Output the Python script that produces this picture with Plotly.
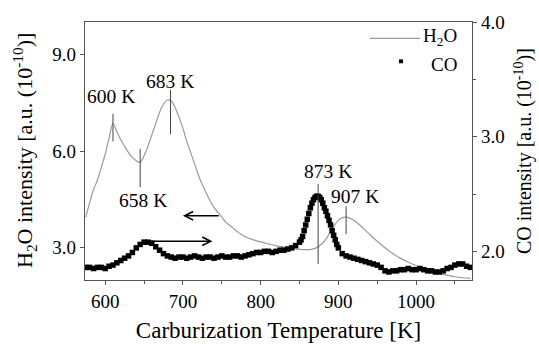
import plotly.graph_objects as go

# H2O signal (left axis)
h2o_T = [575, 580, 585, 590, 595, 600, 605, 610, 615, 620, 625, 630, 635, 640, 645, 650, 655, 660, 665, 670,
         675, 680, 685, 690, 695, 700, 705, 710, 715, 720, 725, 730, 735, 740, 745, 750, 755, 760, 765, 770,
         775, 780, 790, 800, 810, 820, 830, 840, 850, 860, 865, 870, 875, 880, 885, 890, 895, 900, 905, 910,
         915, 920, 930, 940, 950, 960, 970, 980, 990, 1000, 1010, 1020, 1030, 1040, 1050, 1060, 1070]
h2o_v = [3.95, 4.4, 4.8, 5.1, 5.5, 5.9, 6.4, 6.85, 6.6, 6.35, 6.15, 5.95, 5.8, 5.7, 5.65, 5.85, 6.15, 6.5, 6.85, 7.2,
         7.45, 7.58, 7.55, 7.35, 7.05, 6.7, 6.3, 5.95, 5.6, 5.25, 4.95, 4.7, 4.45, 4.25, 4.1, 3.95, 3.8, 3.7, 3.6, 3.5,
         3.42, 3.35, 3.25, 3.18, 3.12, 3.06, 3.02, 2.98, 2.95, 2.94, 2.95, 2.98, 3.05, 3.15, 3.3, 3.5, 3.7, 3.85, 3.93, 3.95,
         3.92, 3.85, 3.65, 3.42, 3.2, 3.0, 2.82, 2.67, 2.55, 2.45, 2.36, 2.28, 2.2, 2.15, 2.1, 2.07, 2.05]

# CO signal (right axis); denser sampling through the sharp 873 K peak
co_T = [575, 580, 585, 590, 595, 600, 605, 610, 615, 620, 625, 630, 635, 640, 645, 650, 655, 660, 665, 670,
        675, 680, 685, 690, 695, 700, 705, 710, 715, 720, 725, 730, 735, 740, 745, 750, 755, 760, 765, 770,
        775, 780, 785, 790, 795, 800, 805, 810, 815, 820, 825, 830, 835, 840, 845,
        850, 852, 854, 856, 858, 860, 862, 864, 866, 868, 870, 872, 874, 876, 878, 880, 882, 884, 886, 888,
        890, 892, 894, 896, 898, 900,
        905, 910, 915, 920, 925, 930, 935, 940, 945, 950, 955, 960, 965, 970,
        975, 980, 985, 990, 995, 1000, 1005, 1010, 1015, 1020, 1025, 1030, 1035, 1040, 1045, 1050, 1055, 1060, 1065, 1070]
co_v = [1.86, 1.86, 1.85, 1.86, 1.86, 1.85, 1.87, 1.88, 1.90, 1.92, 1.94, 1.96, 1.99, 2.03, 2.06, 2.08, 2.08, 2.07, 2.04, 2.01,
        1.98, 1.96, 1.95, 1.94, 1.95, 1.95, 1.94, 1.95, 1.96, 1.95, 1.94, 1.95, 1.95, 1.94, 1.95, 1.96, 1.95, 1.95, 1.96, 1.96,
        1.95, 1.96, 1.97, 1.98, 1.99, 1.99, 2.00, 2.00, 1.99, 2.00, 2.01, 2.01, 2.02, 2.03, 2.05,
        2.08, 2.10, 2.13, 2.18, 2.23, 2.28, 2.33, 2.38, 2.42, 2.45, 2.47, 2.48, 2.48, 2.47, 2.45, 2.42, 2.38, 2.35, 2.31, 2.27,
        2.23, 2.18, 2.14, 2.10, 2.06, 2.03,
        1.98, 1.96, 1.95, 1.94, 1.93, 1.92, 1.91, 1.90, 1.89, 1.88, 1.86, 1.83, 1.82, 1.83,
        1.83, 1.84, 1.84, 1.85, 1.84, 1.84, 1.85, 1.84, 1.83, 1.83, 1.82, 1.82, 1.83, 1.85, 1.86, 1.88, 1.89, 1.89, 1.87, 1.86]

# Peak labels (left-axis units)
peak_labels = ["600 K", "683 K", "658 K", "873 K", "907 K"]
peak_text_x = [607, 683, 649, 887, 922]
peak_text_y = [7.7, 8.15, 4.46, 5.36, 4.58]
peak_line_x = [610, 684, 645, 874, 910]
peak_line_y0 = [6.3, 6.52, 4.88, 2.5, 3.42]
peak_line_y1 = [7.15, 7.89, 6.07, 4.97, 4.29]

series_names = ["H<sub>2</sub>O", "CO"]

FONT = "Times New Roman, Liberation Serif, serif"
W, H = 539, 350
ML, MR, MT, MB = 85, 67, 21, 60
PW, PH = W - ML - MR, H - MT - MB


def px_x(p):
    return (p - ML) / PW


def px_y(p):
    return (H - MB - p) / PH


H2O_COLOR = "#9a9a9a"
CO_COLOR = "black"

fig = go.Figure()
fig.add_trace(go.Scatter(x=h2o_T, y=h2o_v, mode="lines", name=series_names[0], showlegend=False,
                         line=dict(color=H2O_COLOR, width=1.2, shape="spline"), yaxis="y"))
fig.add_trace(go.Scatter(x=co_T, y=co_v, mode="markers", name=series_names[1], showlegend=False,
                         marker=dict(symbol="square", size=5.5, color=CO_COLOR, line=dict(width=0)),
                         yaxis="y2"))

for t, tx, ty, lx, y0, y1 in zip(peak_labels, peak_text_x, peak_text_y, peak_line_x, peak_line_y0, peak_line_y1):
    fig.add_annotation(x=tx, y=ty, xref="x", yref="y", text=t, showarrow=False,
                       font=dict(family=FONT, size=19.5, color="black"))
    fig.add_shape(type="line", xref="x", yref="y", x0=lx, x1=lx, y0=y0, y1=y1,
                  line=dict(color="#444", width=1))

# arrows pointing to the axis of each curve
fig.add_annotation(x=700, y=3.99, ax=748, ay=3.99, xref="x", yref="y", axref="x", ayref="y",
                   text="", showarrow=True, arrowhead=5, arrowsize=1.1, arrowwidth=1.5, arrowcolor="black")
fig.add_annotation(x=738, y=3.2, ax=655, ay=3.2, xref="x", yref="y", axref="x", ayref="y",
                   text="", showarrow=True, arrowhead=5, arrowsize=1.1, arrowwidth=1.5, arrowcolor="black")

# legend drawn inside the frame (line sample / square sample + right-aligned label)
fig.add_shape(type="line", xref="paper", yref="paper", x0=px_x(370), x1=px_x(420), y0=px_y(38), y1=px_y(38),
              line=dict(color=H2O_COLOR, width=1.2))
fig.add_annotation(x=px_x(459), y=px_y(37), xref="paper", yref="paper", xanchor="right", yanchor="middle",
                   text=series_names[0], showarrow=False, font=dict(family=FONT, size=19, color="black"))
fig.add_shape(type="rect", xref="paper", yref="paper", x0=px_x(399), x1=px_x(403), y0=px_y(60), y1=px_y(64),
              fillcolor=CO_COLOR, line=dict(width=0))
fig.add_annotation(x=px_x(459), y=px_y(65), xref="paper", yref="paper", xanchor="right", yanchor="middle",
                   text=series_names[1], showarrow=False, font=dict(family=FONT, size=19, color="black"))

# axis titles
fig.add_annotation(x=px_x(24), y=0.5, xref="paper", yref="paper", textangle=-90, showarrow=False,
                   xanchor="center", yanchor="middle",
                   text="H<sub>2</sub>O intensity [a.u. (10<sup>-10</sup>)]",
                   font=dict(family=FONT, size=22, color="black"))
fig.add_annotation(x=px_x(523), y=0.5, xref="paper", yref="paper", textangle=-90, showarrow=False,
                   xanchor="center", yanchor="middle",
                   text="CO intensity [a.u. (10<sup>-10</sup>)]",
                   font=dict(family=FONT, size=20, color="black"))

axis_common = dict(showgrid=False, zeroline=False, linecolor="#555", linewidth=1.2,
                   ticks="outside", ticklen=4, tickcolor="#555",
                   tickfont=dict(family=FONT, size=19, color="black"))

fig.update_layout(
    width=W, height=H,
    margin=dict(l=ML, r=MR, t=MT, b=MB),
    paper_bgcolor="white", plot_bgcolor="white",
    showlegend=False,
    xaxis=dict(range=[574, 1072], tickvals=[600, 700, 800, 900, 1000], mirror=True,
               minor=dict(tickvals=[650, 750, 850, 950, 1050], ticks="outside", ticklen=3, tickcolor="#555"),
               title=dict(text="Carburization Temperature [K]", font=dict(family=FONT, size=23, color="black"),
                          standoff=10),
               **axis_common),
    yaxis=dict(range=[2.0, 10.0], tickvals=[3, 6, 9], ticktext=["3.0", "6.0", "9.0"], **axis_common),
    yaxis2=dict(range=[1.75, 4.0], overlaying="y", side="right", tickvals=[2, 3, 4],
                ticktext=["2.0", "3.0", "4.0"],
                minor=dict(tickvals=[2.5, 3.5], ticks="outside", ticklen=3, tickcolor="#555"),
                **axis_common),
)

fig.write_html("out.html")
